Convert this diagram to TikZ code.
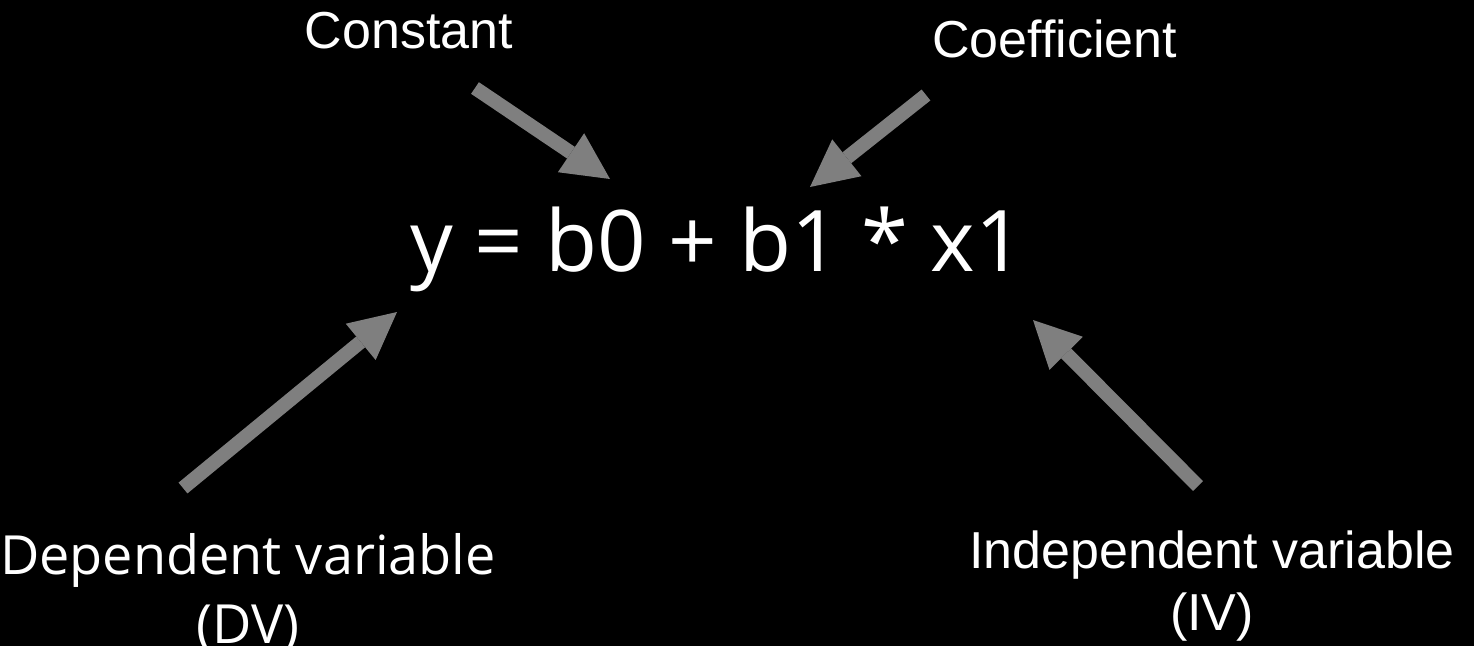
\documentclass[tikz,border=0pt]{standalone}
\usepackage{fontspec}
\usetikzlibrary{arrows.meta}
\newfontfamily\osans{Open Sans}
\newfontfamily\arialf{Liberation Sans}
\definecolor{arrowgray}{RGB}{127,127,127}
\tikzset{
  lbl/.style={text=white, inner sep=0pt, anchor=base, align=center},
  blockarrow/.style={draw=arrowgray, line width=14pt, line cap=butt,
    -{Triangle[length=47pt, width=47pt, line width=0pt]}}
}
\begin{document}
\begin{tikzpicture}[x=1pt, y=-1pt]
\fill[black] (0,0) rectangle (1474,646);
\useasboundingbox (0,0) rectangle (1474,646);
\node[lbl, font=\arialf\fontsize{52}{62}\selectfont] (const) at (409,48.5) {Constant};
\node[lbl, font=\arialf\fontsize{52}{62}\selectfont] (coef) at (1054.5,57) {Coefficient};
\node[lbl, font=\osans\fontsize{85}{100}\selectfont] (eq) at (717,271) {y = b0 + b1 * x1};
\node[lbl, font=\osans\fontsize{54}{69}\selectfont] (dv) at (248,643) {Dependent variable\\(DV)};
\node[lbl, font=\arialf\fontsize{52}{62}\selectfont] (iv) at (1212,630) {Independent variable\\(IV)};
\coordinate (a1s) at (475,88);   \coordinate (a1e) at (610,179);
\coordinate (a2s) at (926,95);   \coordinate (a2e) at (810,187);
\coordinate (a3s) at (183,488);  \coordinate (a3e) at (397,312);
\coordinate (a4s) at (1198,486); \coordinate (a4e) at (1033,320);
\draw[blockarrow] (a1s) -- (a1e);
\draw[blockarrow] (a2s) -- (a2e);
\draw[blockarrow] (a3s) -- (a3e);
\draw[blockarrow] (a4s) -- (a4e);
\end{tikzpicture}
\end{document}
